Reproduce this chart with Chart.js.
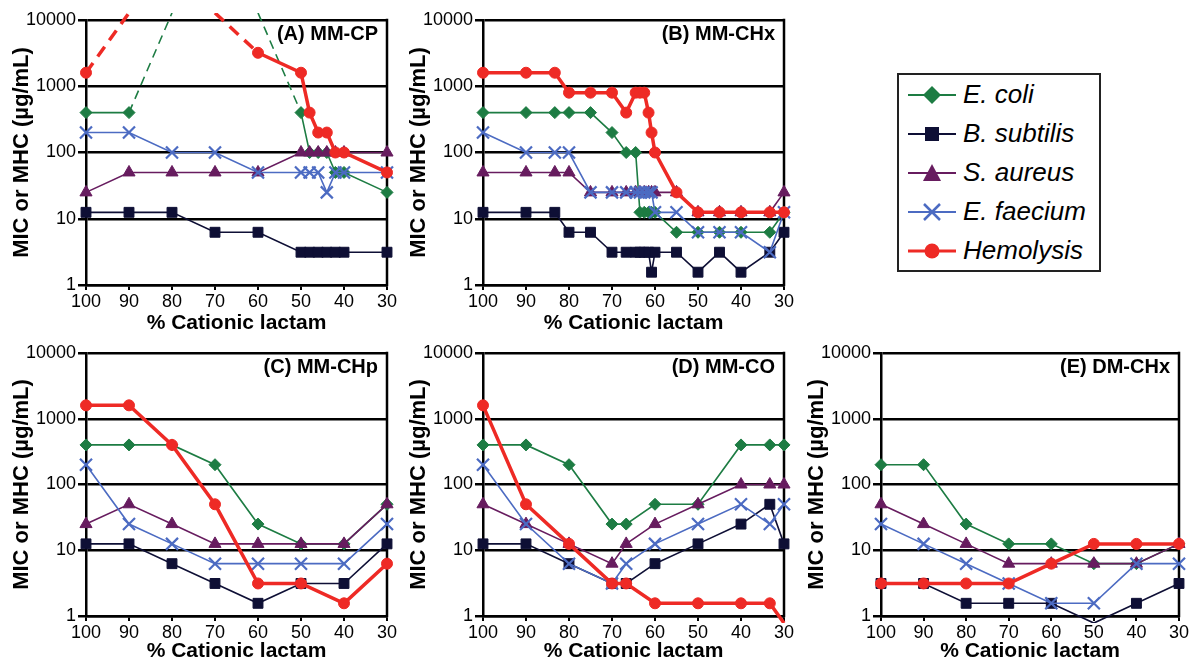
<!DOCTYPE html>
<html>
<head>
<meta charset="utf-8">
<script src="https://cdn.jsdelivr.net/npm/chart.js@4/dist/chart.umd.min.js"></script>
<style>
  body { margin: 0; background: #fff; }
  #wrap { position: relative; width: 1193px; height: 664px; overflow: hidden; font-family: 'Liberation Sans', Arial, sans-serif; }
  canvas { position: absolute; }
  .legend { position: absolute; left: 897px; top: 73px; width: 200px; border: 2.5px solid #222; background: #fff; }
  .legend .row { height: 39px; display: flex; align-items: center; }
  .legend svg { margin-left: 9px; margin-right: 7px; }
  .legend span { font-style: italic; font-size: 26px; color: #000; }
</style>
</head>
<body>
<div id="wrap">
  <canvas id="chartA" width="401" height="336" style="left:0px;top:0px"></canvas>
  <canvas id="chartB" width="401" height="336" style="left:397px;top:0px"></canvas>
  <canvas id="chartC" width="401" height="331" style="left:0px;top:333px"></canvas>
  <canvas id="chartD" width="401" height="331" style="left:397px;top:333px"></canvas>
  <canvas id="chartE" width="398" height="331" style="left:795px;top:333px"></canvas>
  <div class="legend" id="legend"></div>
</div>
<script>
// ---- data (MIC / MHC in ug/mL; values above 10000 are off-scale) ----
const yTicks = [1, 10, 100, 1000, 10000];

// (A) MM-CP
const xA = [100, 90, 80, 70, 60, 50, 48, 46, 44, 42, 40, 30];
const ecoliA = [400, 400, 12800, 12800, 12800, 400, 100, 100, 100, 50, 50, 25];
const bsubA = [12.5, 12.5, 12.5, 6.25, 6.25, 3.125, 3.125, 3.125, 3.125, 3.125, 3.125, 3.125];
const saurA = [25, 50, 50, 50, 50, 100, 100, 100, 100, 100, 100, 100];
const efaeA = [200, 200, 100, 100, 50, 50, 50, 50, 25, 50, 50, 50];
const hemoA = [1600, 12800, 12800, 12800, 3200, 1600, 400, 200, 200, 100, 100, 50];

// (B) MM-CHx
const xB = [100, 90, 83.3, 80, 75, 70, 66.7, 64.5, 63.5, 62.5, 61.5, 60.8, 60, 55, 50, 45, 40, 33.3, 30];
const ecoliB = [400, 400, 400, 400, 400, 200, 100, 100, 12.5, 12.5, 12.5, 12.5, 12.5, 6.25, 6.25, 6.25, 6.25, 6.25, 12.5];
const bsubB = [12.5, 12.5, 12.5, 6.25, 6.25, 3.125, 3.125, 3.125, 3.125, 3.125, 3.125, 1.56, 3.125, 3.125, 1.56, 3.125, 1.56, 3.125, 6.25];
const saurB = [50, 50, 50, 50, 25, 25, 25, 25, 25, 25, 25, 25, 25, 25, 12.5, 12.5, 12.5, 12.5, 25];
const efaeB = [200, 100, 100, 100, 25, 25, 25, 25, 25, 25, 25, 25, 12.5, 12.5, 6.25, 6.25, 6.25, 3.125, 12.5];
const hemoB = [1600, 1600, 1600, 800, 800, 800, 400, 800, 800, 800, 400, 200, 100, 25, 12.5, 12.5, 12.5, 12.5, 12.5];

// (C) MM-CHp
const xC = [100, 90, 80, 70, 60, 50, 40, 30];
const ecoliC = [400, 400, 400, 200, 25, 12.5, 12.5, 50];
const bsubC = [12.5, 12.5, 6.25, 3.125, 1.56, 3.125, 3.125, 12.5];
const saurC = [25, 50, 25, 12.5, 12.5, 12.5, 12.5, 50];
const efaeC = [200, 25, 12.5, 6.25, 6.25, 6.25, 6.25, 25];
const hemoC = [1600, 1600, 400, 50, 3.125, 3.125, 1.56, 6.25];

// (D) MM-CO
const xD = [100, 90, 80, 70, 66.7, 60, 50, 40, 33.3, 30];
const ecoliD = [400, 400, 200, 25, 25, 50, 50, 400, 400, 400];
const bsubD = [12.5, 12.5, 6.25, 3.125, 3.125, 6.25, 12.5, 25, 50, 12.5];
const saurD = [50, 25, 12.5, 6.25, 12.5, 25, 50, 100, 100, 100];
const efaeD = [200, 25, 6.25, 3.125, 6.25, 12.5, 25, 50, 25, 50];
const hemoD = [1600, 50, 12.5, 3.125, 3.125, 1.56, 1.56, 1.56, 1.56, 0.78];

// (E) DM-CHx
const xE = [100, 90, 80, 70, 60, 50, 40, 30];
const ecoliE = [200, 200, 25, 12.5, 12.5, 6.25, 6.25, 12.5];
const bsubE = [3.125, 3.125, 1.56, 1.56, 1.56, 0.78, 1.56, 3.125];
const saurE = [50, 25, 12.5, 6.25, 6.25, 6.25, 6.25, 12.5];
const efaeE = [25, 12.5, 6.25, 3.125, 1.56, 1.56, 6.25, 6.25];
const hemoE = [3.125, 3.125, 3.125, 3.125, 6.25, 12.5, 12.5, 12.5];

const seriesNames = ['E. coli', 'B. subtilis', 'S. aureus', 'E. faecium', 'Hemolysis'];

// ---- styles ----
const FONT = "'Liberation Sans', Arial, sans-serif";
Chart.defaults.font.family = FONT;
Chart.defaults.color = '#000';

const styles = {
  'E. coli':     { color: '#1d7c43', point: 'rectRot',  radius: 6,   width: 1.6, dash: [9, 6],  order: 4 },
  'B. subtilis': { color: '#0e0f35', point: 'rect',     radius: 7,   width: 1.6, dash: [9, 6],  order: 3 },
  'S. aureus':   { color: '#671c5f', point: 'triangle', radius: 7,   width: 1.6, dash: [9, 6],  order: 2 },
  'E. faecium':  { color: '#4c6bc2', point: 'crossRot', radius: 8.5, width: 1.6, dash: [9, 6],  order: 1 },
  'Hemolysis':   { color: '#ee2a25', point: 'circle',   radius: 5.5, width: 3.5, dash: [12, 8], order: 0 }
};

const Y_MIN = 1, Y_MAX = 10000;
const offScale = v => v > Y_MAX || v < Y_MIN;

function makeDataset(name, xs, ys) {
  const s = styles[name];
  return {
    label: name,
    data: xs.map((x, i) => ({ x: x, y: ys[i] })),
    borderColor: s.color,
    backgroundColor: s.color,
    borderWidth: s.width,
    pointStyle: s.point,
    pointRadius: ctx => (ctx.raw && offScale(ctx.raw.y)) ? 0 : s.radius,
    pointBorderWidth: s.point === 'crossRot' ? 2.2 : 1,
    pointBackgroundColor: s.color,
    pointBorderColor: s.color,
    tension: 0,
    order: s.order,
    clip: { left: 12, right: 12, top: 7, bottom: 7 },
    segment: {
      borderColor: ctx => (ctx.p0.parsed.y > Y_MAX && ctx.p1.parsed.y > Y_MAX) ? 'rgba(0,0,0,0)' : undefined,
      borderDash: ctx => (ctx.p0.parsed.y > Y_MAX || ctx.p1.parsed.y > Y_MAX) ? s.dash : undefined
    }
  };
}

const framePlugin = {
  id: 'frame',
  beforeDatasetsDraw(chart, args, opts) {
    const { ctx, chartArea: a } = chart;
    ctx.save();
    ctx.strokeStyle = '#000';
    ctx.lineWidth = 2.5;
    ctx.beginPath();
    ctx.moveTo(a.right, a.top - 1.25);
    ctx.lineTo(a.right, a.bottom + 1.25);
    ctx.stroke();
    ctx.fillStyle = '#000';
    ctx.font = 'bold 20px ' + FONT;
    ctx.textAlign = 'right';
    ctx.textBaseline = 'middle';
    ctx.fillText(opts.text, a.right - 9, a.top + 14);
    ctx.restore();
  }
};

function drawPanel(id, title, xs, cols, xAxisHeight) {
  const datasets = seriesNames.map((n, i) => makeDataset(n, xs, cols[i]));
  new Chart(document.getElementById(id), {
    type: 'line',
    data: { datasets: datasets },
    plugins: [framePlugin],
    options: {
      responsive: false,
      animation: false,
      events: [],
      layout: { padding: { left: 0, top: 20, right: 14, bottom: 0 } },
      plugins: {
        legend: { display: false },
        tooltip: { enabled: false },
        frame: { text: title }
      },
      scales: {
        x: {
          type: 'linear',
          reverse: true,
          min: 30,
          max: 100,
          afterFit: s => { s.height = xAxisHeight; },
          ticks: { stepSize: 10, color: '#000', font: { size: 18 }, padding: 1, maxRotation: 0 },
          grid: { drawOnChartArea: false, drawTicks: true, tickLength: 5, color: '#000', lineWidth: 2 },
          border: { color: '#000', width: 2.5 },
          title: { display: true, text: '% Cationic lactam', color: '#000', font: { size: 21, weight: 'bold' }, padding: 0 }
        },
        y: {
          type: 'logarithmic',
          min: Y_MIN,
          max: Y_MAX,
          afterFit: s => { s.width = 86; },
          afterBuildTicks: s => { s.ticks = yTicks.map(v => ({ value: v })); },
          ticks: { color: '#000', font: { size: 18 }, padding: 2, callback: v => String(v) },
          grid: { color: '#000', lineWidth: 2.5, tickLength: 8 },
          border: { color: '#000', width: 2.5 },
          title: { display: true, text: 'MIC or MHC (µg/mL)', color: '#000', font: { size: 22, weight: 'bold' }, padding: { top: 9, bottom: 0 } }
        }
      }
    }
  });
}

drawPanel('chartA', '(A) MM-CP', xA, [ecoliA, bsubA, saurA, efaeA, hemoA], 51);
drawPanel('chartB', '(B) MM-CHx', xB, [ecoliB, bsubB, saurB, efaeB, hemoB], 51);
drawPanel('chartC', '(C) MM-CHp', xC, [ecoliC, bsubC, saurC, efaeC, hemoC], 48);
drawPanel('chartD', '(D) MM-CO', xD, [ecoliD, bsubD, saurD, efaeD, hemoD], 48);
drawPanel('chartE', '(E) DM-CHx', xE, [ecoliE, bsubE, saurE, efaeE, hemoE], 48);

// ---- legend ----
function markerSvg(name) {
  const s = styles[name];
  const c = s.color;
  const lw = name === 'Hemolysis' ? 3 : 2;
  let m = '';
  if (s.point === 'rectRot') m = `<polygon points="24,1 33,10 24,19 15,10" fill="${c}"/>`;
  else if (s.point === 'rect') m = `<rect x="17" y="3" width="14" height="14" fill="${c}"/>`;
  else if (s.point === 'triangle') m = `<polygon points="24,1 33,18 15,18" fill="${c}"/>`;
  else if (s.point === 'crossRot') m = `<path d="M16,2 L32,18 M32,2 L16,18" stroke="${c}" stroke-width="2.5"/>`;
  else m = `<circle cx="24" cy="10" r="7.5" fill="${c}"/>`;
  return `<svg width="48" height="20" viewBox="0 0 48 20"><line x1="0" y1="10" x2="48" y2="10" stroke="${c}" stroke-width="${lw}"/>${m}</svg>`;
}
const legend = document.getElementById('legend');
seriesNames.forEach(n => {
  const row = document.createElement('div');
  row.className = 'row';
  row.innerHTML = markerSvg(n) + `<span>${n}</span>`;
  legend.appendChild(row);
});
</script>
</body>
</html>
